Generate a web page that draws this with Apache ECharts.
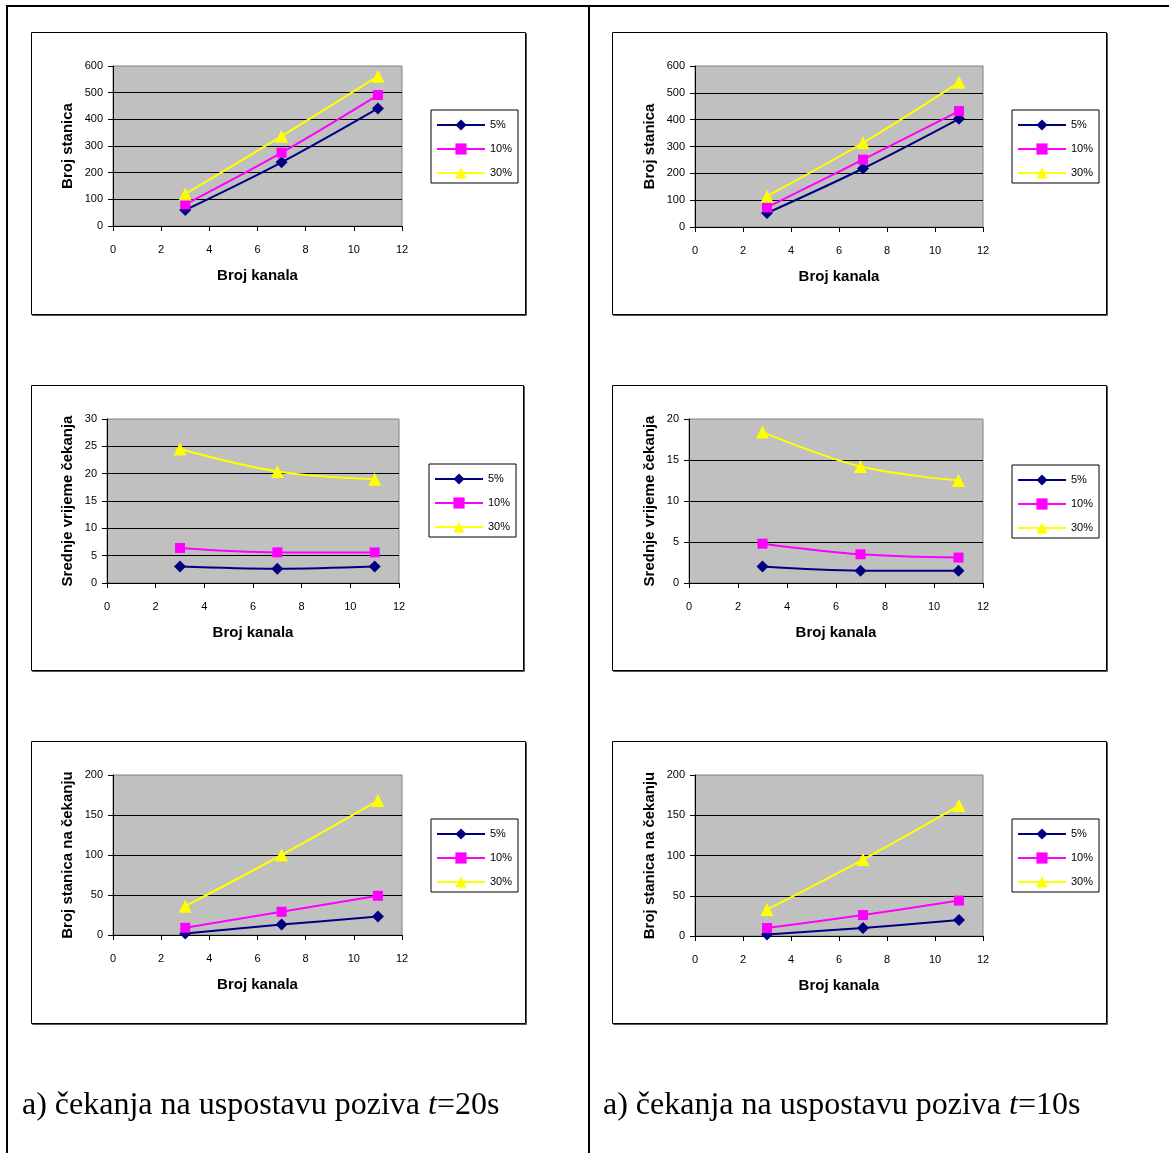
<!DOCTYPE html>
<html>
<head>
<meta charset="utf-8">
<title>Broj kanala</title>
<script src="https://cdn.jsdelivr.net/npm/echarts@6/dist/echarts.min.js"></script>
<style>
    html, body { margin: 0; padding: 0; background: #fff; }
    #main { width: 1169px; height: 1153px; }
</style>
</head>
<body>
<div id="main"></div>
<script>
// podaci ocitani sa slike
var kanali = [3, 7, 11];                 // x vrijednosti (broj kanala)
var nazivi = ['5%', '10%', '30%'];       // legenda

// t=20s (lijevi stupac)
var brojStanica20 = [[60, 239, 441], [81, 275, 491], [120, 337, 562]];
var vrijemeCekanja20 = [[3.0, 2.6, 3.0], [6.4, 5.6, 5.6], [24.5, 20.4, 19.0]];
var staniceNaCekanju20 = [[2, 13, 23], [9, 29, 49], [36, 100, 168]];

// t=10s (desni stupac)
var brojStanica10 = [[52, 218, 403], [73, 251, 432], [115, 314, 539]];
var vrijemeCekanja10 = [[2.0, 1.5, 1.5], [4.8, 3.5, 3.1], [18.4, 14.2, 12.5]];
var staniceNaCekanju10 = [[2, 10, 20], [10, 26, 44], [33, 95, 162]];

var boje = ['#000080', '#FF00FF', '#FFFF00'];
var simboli = ['diamond', 'rect', 'triangle'];
var velicine = [12, 10, 13];
var font = 'Liberation Sans, Arial, sans-serif';
var serif = 'Liberation Serif, Times New Roman, serif';

// raspored panela: grid, legenda, okvir
var paneli = [
    {grid: [113, 66, 289, 160], leg: [431, 110], box: [31, 32, 494, 282], data: brojStanica20, max: 600, step: 100, name: 'Broj stanica', gap: 38},
    {grid: [107, 419, 292, 164], leg: [429, 464], box: [31, 385, 492, 285], data: vrijemeCekanja20, max: 30, step: 5, name: 'Srednje vrijeme čekanja', gap: 32},
    {grid: [113, 775, 289, 160], leg: [431, 819], box: [31, 741, 494, 282], data: staniceNaCekanju20, max: 200, step: 50, name: 'Broj stanica na čekanju', gap: 38},
    {grid: [695, 66, 288, 161], leg: [1012, 110], box: [612, 32, 494, 282], data: brojStanica10, max: 600, step: 100, name: 'Broj stanica', gap: 38},
    {grid: [689, 419, 294, 164], leg: [1012, 465], box: [612, 385, 494, 285], data: vrijemeCekanja10, max: 20, step: 5, name: 'Srednje vrijeme čekanja', gap: 32},
    {grid: [695, 775, 288, 161], leg: [1012, 819], box: [612, 741, 494, 282], data: staniceNaCekanju10, max: 200, step: 50, name: 'Broj stanica na čekanju', gap: 38}
];

var grids = [], xAxes = [], yAxes = [], legends = [], series = [], graphics = [];

// okvir tablice
graphics.push({type: 'rect', shape: {x: 6, y: 5, width: 1163, height: 2}, style: {fill: '#000'}});
graphics.push({type: 'rect', shape: {x: 6, y: 5, width: 2, height: 1148}, style: {fill: '#000'}});
graphics.push({type: 'rect', shape: {x: 588, y: 5, width: 2, height: 1148}, style: {fill: '#000'}});

for (var i = 0; i < paneli.length; i++) {
    var p = paneli[i];
    // okvir grafikona (sa sjenom)
    graphics.push({type: 'rect', z: -2, shape: {x: p.box[0] + 1.5, y: p.box[1] + 1.5, width: p.box[2], height: p.box[3]},
        style: {fill: 'none', stroke: '#555', lineWidth: 1}});
    graphics.push({type: 'rect', z: -1, shape: {x: p.box[0] + 0.5, y: p.box[1] + 0.5, width: p.box[2], height: p.box[3]},
        style: {fill: '#fff', stroke: '#000', lineWidth: 1}});

    grids.push({
        left: p.grid[0], top: p.grid[1], width: p.grid[2], height: p.grid[3],
        show: true, backgroundColor: '#C0C0C0', borderColor: '#808080', borderWidth: 1
    });
    xAxes.push({
        gridIndex: i, type: 'value', min: 0, max: 12, interval: 2,
        name: 'Broj kanala', nameLocation: 'middle', nameGap: 42,
        nameTextStyle: {fontFamily: font, fontSize: 15, fontWeight: 'bold', color: '#000'},
        axisLine: {onZero: false, lineStyle: {color: '#000', width: 1}},
        axisTick: {show: true, inside: false, length: 5, lineStyle: {color: '#000'}},
        axisLabel: {fontFamily: font, fontSize: 11, color: '#000', margin: 18},
        splitLine: {show: false}
    });
    yAxes.push({
        gridIndex: i, type: 'value', min: 0, max: p.max, interval: p.step,
        name: p.name, nameLocation: 'middle', nameGap: p.gap, nameRotate: 90,
        nameTextStyle: {fontFamily: font, fontSize: 15, fontWeight: 'bold', color: '#000'},
        axisLine: {show: true, lineStyle: {color: '#000', width: 1}},
        axisTick: {show: true, inside: false, length: 5, lineStyle: {color: '#000'}},
        axisLabel: {fontFamily: font, fontSize: 11, color: '#000', margin: 10, padding: [2, 0, 0, 0]},
        splitLine: {show: true, showMaxLine: false, lineStyle: {color: '#000', width: 1}}
    });
    legends.push({
        orient: 'vertical', left: p.leg[0], top: p.leg[1],
        data: nazivi, selectedMode: false,
        itemWidth: 48, itemHeight: 14, itemGap: 10,
        padding: [8, 6, 3, 5],
        borderColor: '#000', borderWidth: 1, backgroundColor: '#fff',
        textStyle: {fontFamily: font, fontSize: 11, color: '#000', lineHeight: 14}
    });
    for (var s = 0; s < nazivi.length; s++) {
        var d = [];
        for (var k = 0; k < kanali.length; k++) {
            d.push([kanali[k], p.data[s][k]]);
        }
        series.push({
            name: nazivi[s], type: 'line', xAxisIndex: i, yAxisIndex: i,
            data: d, smooth: 0.35, clip: false,
            symbol: simboli[s], symbolSize: velicine[s],
            lineStyle: {color: boje[s], width: 2},
            itemStyle: {color: boje[s], borderWidth: 0},
            z: 3 + s
        });
    }
}

// natpisi ispod grafikona
graphics.push({type: 'text', left: 22, top: 1090, style: {
    text: 'a) čekanja na uspostavu poziva {i|t}=20s',
    fontFamily: serif, fontSize: 32, fill: '#000',
    rich: {i: {fontStyle: 'italic', fontFamily: serif, fontSize: 32}}
}});
graphics.push({type: 'text', left: 603, top: 1090, style: {
    text: 'a) čekanja na uspostavu poziva {i|t}=10s',
    fontFamily: serif, fontSize: 32, fill: '#000',
    rich: {i: {fontStyle: 'italic', fontFamily: serif, fontSize: 32}}
}});

var myChart = echarts.init(document.getElementById('main'));
myChart.setOption({
    backgroundColor: '#fff',
    animation: false,
    grid: grids,
    xAxis: xAxes,
    yAxis: yAxes,
    legend: legends,
    series: series,
    graphic: graphics
});
</script>
</body>
</html>
